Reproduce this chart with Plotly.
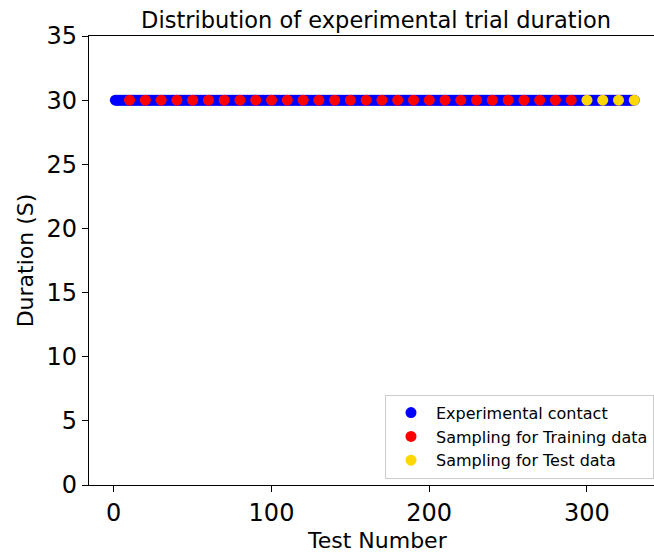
import plotly.graph_objects as go

# ---- data ----
# every experimental trial (test numbers 1..330) lasted 30 s
contact_tests = list(range(1, 331))
contact_durations = [30] * len(contact_tests)

train_tests = [10, 20, 30, 40, 50, 60, 70, 80, 90, 100, 110, 120, 130, 140, 150,
               160, 170, 180, 190, 200, 210, 220, 230, 240, 250, 260, 270, 280, 290]
train_durations = [30] * len(train_tests)

test_tests = [300, 310, 320, 330]
test_durations = [30, 30, 30, 30]

x_ticks = [0, 100, 200, 300]
y_ticks = [0, 5, 10, 15, 20, 25, 30, 35]

FONT = "DejaVu Sans"
TXT = "#000000"

fig = go.Figure()
fig.add_trace(go.Scatter(x=contact_tests, y=contact_durations, mode="markers",
                         name="Experimental contact", legendgroup="a",
                         marker=dict(color="#0000ff", size=11, line=dict(width=0))))
fig.add_trace(go.Scatter(x=train_tests, y=train_durations, mode="markers",
                         name="Sampling for Training data", legendgroup="b",
                         marker=dict(color="#ff0000", size=11, line=dict(width=0))))
fig.add_trace(go.Scatter(x=test_tests, y=test_durations, mode="markers",
                         name="Sampling for Test data", legendgroup="c",
                         marker=dict(color="#ffd700", size=11, line=dict(width=0))))

fig.update_layout(
    width=654, height=554,
    margin=dict(l=89, r=0, t=36, b=69, autoexpand=False),
    plot_bgcolor="white", paper_bgcolor="white",
    font=dict(family=FONT, color=TXT),
    title=dict(text="Distribution of experimental trial duration",
               x=0.508, xanchor="center", xref="paper",
               y=1 - 20 / 554, yanchor="middle",
               font=dict(size=22.5, family=FONT, color=TXT)),
    xaxis=dict(range=[-15.7, 342.5], tickvals=x_ticks, showgrid=False, zeroline=False,
               showline=True, linecolor="black", linewidth=1.2, mirror=True,
               ticks="outside", ticklen=6, tickwidth=1.2, tickcolor="black",
               tickfont=dict(size=24, family=FONT, color=TXT), automargin=False),
    yaxis=dict(range=[0, 35], tickvals=y_ticks, showgrid=False, zeroline=False,
               showline=True, linecolor="black", linewidth=1.2, mirror=False,
               ticks="outside", ticklen=6, tickwidth=1.2, tickcolor="black",
               tickfont=dict(size=24, family=FONT, color=TXT), automargin=False,
               title=dict(text="Duration (S)", font=dict(size=22, family=FONT, color=TXT),
                          standoff=6)),
    legend=dict(x=1, xanchor="right", y=0.014, yanchor="bottom",
                bgcolor="rgba(255,255,255,0.8)", bordercolor="#cccccc", borderwidth=1,
                font=dict(size=16, family=FONT, color=TXT), tracegroupgap=0,
                itemwidth=40),
    annotations=[dict(text="Test Number", xref="paper", yref="paper",
                      x=(377 - 89) / 565, y=(485 - 540) / 449,
                      xanchor="center", yanchor="middle", showarrow=False,
                      font=dict(size=22, family=FONT, color=TXT))],
)

fig.write_html("out.html", config={"displayModeBar": False},
               post_script="document.body.style.margin='0';document.body.style.overflow='hidden';")
